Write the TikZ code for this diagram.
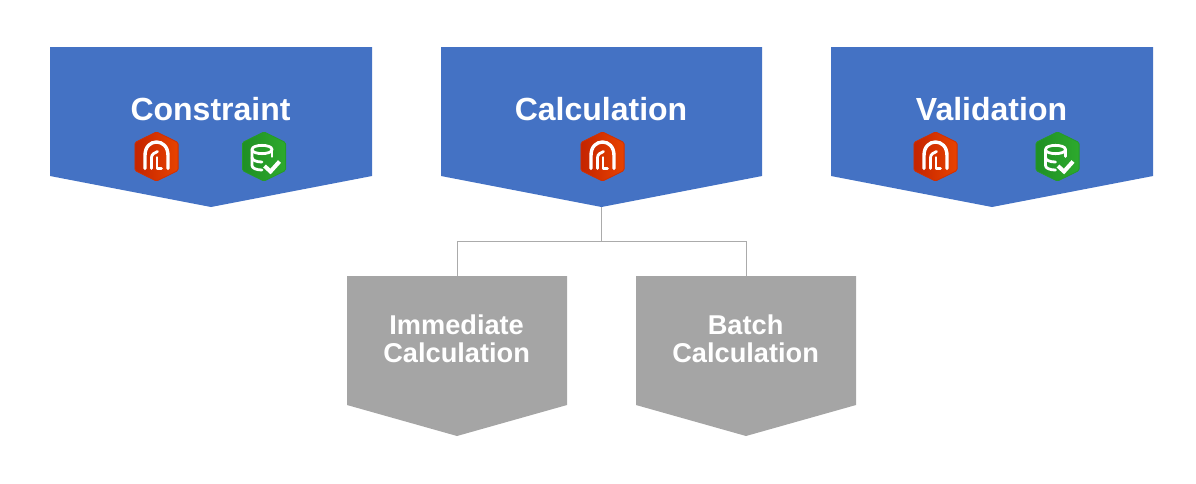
\documentclass[tikz,border=0pt]{standalone}
\usepackage{fontspec}
\setmainfont{Liberation Sans}
\definecolor{bannerblue}{HTML}{4472C4}
\definecolor{bannergray}{HTML}{A5A5A5}
\definecolor{linkgray}{HTML}{ABABAB}
\definecolor{archdark}{HTML}{C42400}
\definecolor{archlight}{HTML}{E84300}
\definecolor{archmid}{HTML}{D23000}
\definecolor{dbdark}{HTML}{1F8F24}
\definecolor{dblight}{HTML}{2DAA2D}
\definecolor{dbmid}{HTML}{259B28}
\tikzset{
  bigtext/.style={text=white,font=\fontsize{32}{32}\selectfont\bfseries,inner sep=0pt},
  subtext/.style={text=white,font=\fontsize{27.2}{28}\selectfont\bfseries,inner sep=0pt,align=center},
  iconline/.style={draw=white,line width=3.4pt,line cap=round,line join=round},
  hexface/.style={rounded corners=1.5pt,line width=0.8pt},
  link/.style={draw=linkgray,line width=1pt},
  archicon/.pic={
    \path[hexface,draw=archmid,left color=archdark,right color=archlight] (0,-24.6) -- (21.6,-14) -- (21.6,14) -- (0,24.6) -- (-21.6,14) -- (-21.6,-14) -- cycle;
    \draw[iconline] (-11.5,12) -- (-11.5,-1) .. controls (-11.5,-10) and (-6,-14.5) .. (0,-14.5) .. controls (6,-14.5) and (11.5,-10) .. (11.5,-1) -- (11.5,12);
    \draw[iconline,line width=2.8pt] (-5,12) -- (-5,1) .. controls (-5,-2) and (-2,-4) .. (1,-5);
    \draw[iconline,line width=2.8pt] (0.5,1) -- (0.5,12) -- (5,12);
  },
  dbicon/.pic={
    \path[hexface,draw=dbmid,left color=dbdark,right color=dblight] (0,-24.6) -- (21.6,-14) -- (21.6,14) -- (0,24.6) -- (-21.6,14) -- (-21.6,-14) -- cycle;
    \draw[iconline,line width=2.8pt] (-12,-7) .. controls (-12,-12.5) and (8,-12.5) .. (8,-7) .. controls (8,-1.5) and (-12,-1.5) .. (-12,-7);
    \draw[iconline,line width=2.8pt] (-12,-7) -- (-12,9) .. controls (-12,12) and (-7,13.5) .. (-2,13.5);
    \draw[iconline,line width=2.8pt] (8,-7) -- (8,0);
    \draw[iconline,line width=2.8pt] (-12,1) .. controls (-12,4) and (-7,5.5) .. (-2,5.5);
    \draw[iconline,line width=4pt,line cap=butt,line join=miter] (0.5,9.5) -- (6.5,15) -- (15.5,5);
  },
}
\begin{document}
\begin{tikzpicture}[x=1pt,y=-1pt]
\useasboundingbox (0,0) rectangle (1196,483);
% top row
\foreach \x/\w/\n/\t in {50/322/constraint/Constraint,441/321/calculation/Calculation,831/322/validation/Validation} {
  \fill[bannerblue] (\x,47) -- (\x+\w,47) -- (\x+\w,176) -- (\x+\w/2,207) -- (\x,176) -- cycle;
  \node[bigtext] (\n) at (\x+\w/2-0.5,109) {\t};
  \coordinate (\n tip) at (\x+\w/2,207);
}
% bottom row
\foreach \x/\n/\t in {347/immediate/{Immediate\\Calculation},636/batch/{Batch\\Calculation}} {
  \fill[bannergray] (\x,276) -- (\x+220,276) -- (\x+220,405) -- (\x+110,436) -- (\x,405) -- cycle;
  \node[subtext] (\n) at (\x+109.6,339) {\t};
  \coordinate (\n top) at (\x+110,276);
}
\pic at (156.5,156.5) {archicon};
\pic at (264,156.5) {dbicon};
\pic at (602.5,156.5) {archicon};
\pic at (935.5,156.5) {archicon};
\pic at (1057.5,156.5) {dbicon};
\draw[link] (calculationtip) -- ++(0,34.5) coordinate (fork);
\draw[link] (immediatetop) |- (fork) -| (batchtop);
\end{tikzpicture}
\end{document}
